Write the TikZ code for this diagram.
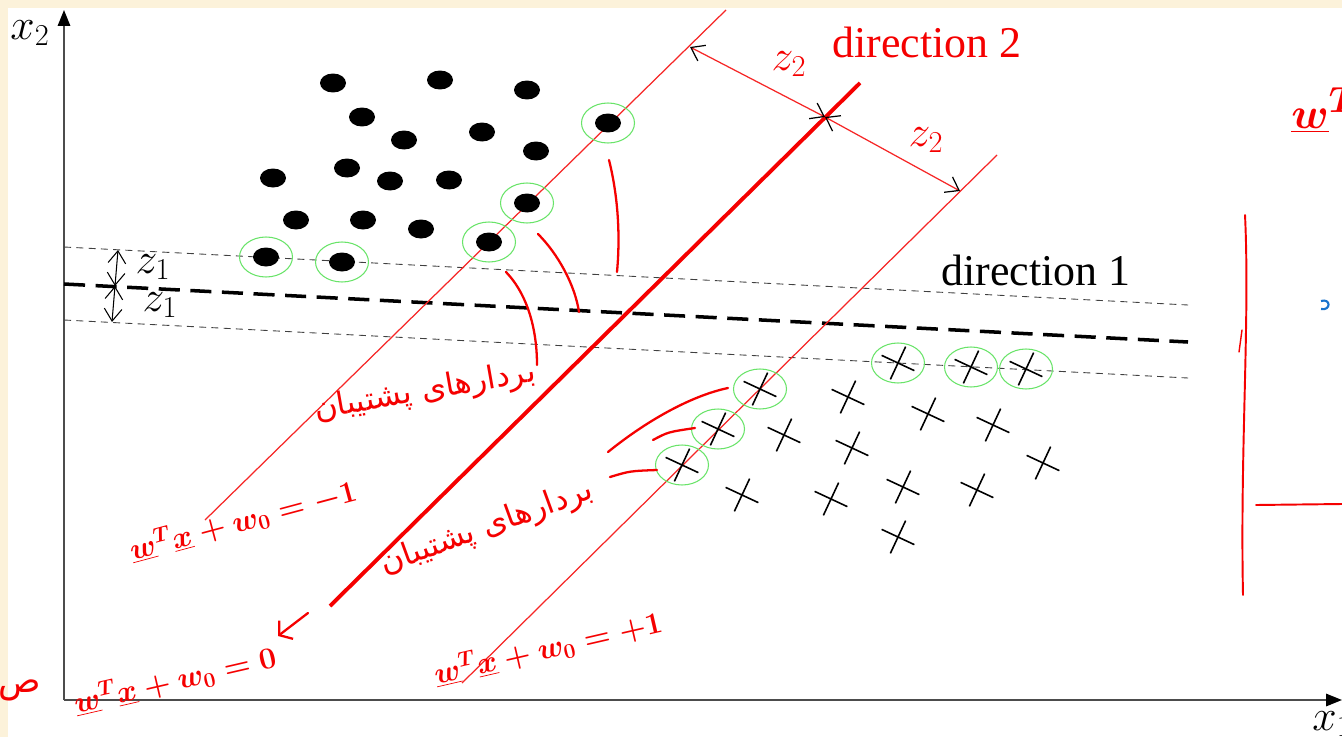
\documentclass[tikz,border=0pt]{standalone}
\usepackage{fontspec}
\setmainfont{Liberation Serif}
\newfontfamily\persianfont[Script=Arabic]{DejaVu Sans}
\TeXXeTstate=1
\usetikzlibrary{arrows.meta,shapes.geometric,shapes.misc}

\definecolor{paper}{RGB}{252,242,218}
\definecolor{ringgreen}{RGB}{105,228,105}
\definecolor{penred}{RGB}{245,0,0}
\definecolor{penblue}{RGB}{25,115,205}

\newcommand{\svpersian}{\persianfont\beginR بردارهای پشتیبان\endR}
\newcommand{\wxeq}[1]{$\underline{w}^{T}\underline{x}+w_{0}=#1$}

\begin{document}
\begin{tikzpicture}[
        x=0.02cm, y=-0.02cm,
        >={Straight Barb[length=7pt, width=10pt, color=black]},
        dot/.style={ellipse, fill=black, inner sep=0,
            minimum width=0.52cm, minimum height=0.38cm},
        crossmark/.style={draw, cross out, line width=0.9pt,
            inner sep=0, minimum size=0.48cm, rotate=20},
        ring/.style={ellipse, draw=ringgreen, line width=0.6pt,
            inner sep=0, minimum width=1.06cm, minimum height=0.8cm},
        axis/.style={draw=black!70, line width=1pt,
            -{Triangle[length=9pt, width=7pt, color=black]}},
        guide/.style={draw=black!75, line width=0.5pt,
            dash pattern=on 4pt off 3pt},
        margin/.style={draw=penred!85, line width=0.7pt},
        hand/.style={draw=penred, line width=1.3pt, line cap=round},
        mathlabel/.style={font=\fontsize{24}{28}\selectfont},
        handtext/.style={text=penred, inner sep=1pt,
            font=\fontsize{17}{20}\selectfont\boldmath}
    ]

    \useasboundingbox (0,0) rectangle (1342,737);
    \clip (0,0) rectangle (1342,737);
    \fill[paper] (0,0) rectangle (1342,737);
    \fill[white] (8,8) rectangle (1342,737);

    \coordinate (origin) at (64,700);
    \coordinate (xend) at (1342,700);
    \coordinate (yend) at (64,10);
    \draw[axis] (origin) -- (xend);
    \draw[axis] (origin) -- (yend);
    \node[mathlabel] (xtwo) at (30,33) {$x_2$};
    \node[mathlabel] (xone) at (1332,724) {$x_1$};

    \coordinate (upper0) at (64,247);
    \coordinate (upper1) at (1188,305);
    \coordinate (mid0) at (64,284);
    \coordinate (mid1) at (1188,342);
    \coordinate (lower0) at (64,320);
    \coordinate (lower1) at (1188,378);
    \draw[guide] (upper0) -- (upper1);
    \draw[guide] (lower0) -- (lower1);
    \draw[line width=2pt, dash pattern=on 12pt off 6pt] (mid0) -- (mid1);

    \coordinate (zonea) at (118,250);
    \coordinate (zoneb) at (115,286);
    \coordinate (zonec) at (112,322);
    \draw[<->, line width=0.6pt] (zonea) -- (zoneb);
    \draw[<->, line width=0.6pt] (zoneb) -- (zonec);
    \node[mathlabel] (zoneup) at (153,267) {$z_1$};
    \node[mathlabel] (zonedown) at (160,305) {$z_1$};
    \node[font=\fontsize{25}{30}\selectfont] (dirone) at (1036,270) {direction 1};

    \coordinate (neg0) at (205,520);
    \coordinate (neg1) at (726,10);
    \coordinate (zero0) at (330,606);
    \coordinate (zero1) at (860,83);
    \coordinate (pos0) at (462,683);
    \coordinate (pos1) at (997,155);
    \draw[margin] (neg0) -- (neg1);
    \draw[margin] (pos0) -- (pos1);
    \draw[draw=penred, line width=2.2pt] (zero0) -- (zero1);

    \coordinate (ztwoa) at (690,47);
    \coordinate (ztwob) at (825,117);
    \coordinate (ztwoc) at (960,191);
    \draw[margin, <->] (ztwoa) -- (ztwob);
    \draw[margin, <->] (ztwob) -- (ztwoc);
    \node[mathlabel, text=penred] (ztwoup) at (789,64) {$z_2$};
    \node[mathlabel, text=penred] (ztwodown) at (926,140) {$z_2$};
    \node[text=penred, font=\fontsize{25}{30}\selectfont] (dirtwo) at (927,42) {direction 2};

    \foreach \x/\y [count=\i] in {333/83, 440/80, 527/90, 362/117, 404/140,
            482/132, 536/151, 273/178, 347/168, 390/181, 449/180,
            296/220, 363/220, 421/229}
        \node[dot] (dot\i) at (\x,\y) {};
    \foreach \x/\y [count=\i] in {266/257, 342/262, 489/242, 527/203, 608/123}
    {
        \node[dot] (svdot\i) at (\x,\y) {};
        \node[ring] (svdotring\i) at (svdot\i) {};
    }
    \foreach \x/\y [count=\i] in {848/397, 928/414, 993/425, 784/435, 852/448,
            1043/463, 742/495, 831/499, 903/487, 977/490, 898/537}
        \node[crossmark] (cross\i) at (\x,\y) {};
    \foreach \x/\y [count=\i] in {760/389, 718/429, 682/465, 898/363,
            971/367, 1026/369}
    {
        \node[crossmark] (svcross\i) at (\x,\y) {};
        \node[ring] (svcrossring\i) at (svcross\i) {};
    }

    \node[text=penred, rotate=10, inner sep=1pt, font=\fontsize{18}{20}\selectfont] (svtextup) at (425,392) {\svpersian};
    \node[text=penred, rotate=20, inner sep=1pt, font=\fontsize{18}{20}\selectfont] (svtextdown) at (487,528) {\svpersian};

    \coordinate (tipa) at (506,272);
    \coordinate (taila) at (537,365);
    \coordinate (tipb) at (538,234);
    \coordinate (tailb) at (579,312);
    \coordinate (tipc) at (609,160);
    \coordinate (tailc) at (617,272);
    \draw[hand] (tipa) .. controls (528,295) and (537,330) .. (taila);
    \draw[hand] (tipb) .. controls (558,254) and (575,285) .. (tailb);
    \draw[hand] (tipc) .. controls (619,200) and (620,240) .. (tailc);

    \coordinate (tipd) at (728,388);
    \coordinate (taild) at (608,452);
    \coordinate (tipe) at (695,428);
    \coordinate (taile) at (653,440);
    \coordinate (tipf) at (657,470);
    \coordinate (tailf) at (610,477);
    \draw[hand] (taild) .. controls (645,422) and (690,396) .. (tipd);
    \draw[hand] (taile) .. controls (668,432) .. (tipe);
    \draw[hand] (tailf) .. controls (630,471) .. (tipf);

    \node[handtext, rotate=15] (eqneg) at (243,520) {\wxeq{-1}};
    \node[handtext, rotate=13] (eqzero) at (175,680) {\wxeq{0}};
    \node[handtext, rotate=13] (eqpos) at (548,648) {\wxeq{+1}};

    \coordinate (pointa) at (308,613);
    \coordinate (pointb) at (278,636);
    \draw[hand, -{Straight Barb[length=5pt, width=13pt]}] (pointa) -- (pointb);

    \node[handtext, font=\fontsize{30}{34}\selectfont\boldmath] (wright) at (1325,110) {$\underline{w}^{T}$};
    \node[text=penred, font=\persianfont\fontsize{20}{24}\selectfont] (cutword) at (20,690) {\beginR ص\endR};
    \draw[hand, line width=1.1pt] (1245,215) .. controls (1250,320) and (1240,450) .. (1243,595);
    \draw[hand, line width=1.1pt] (1256,505) -- (1342,504);
    \draw[hand, line width=0.8pt] (1242,330) -- (1239,352);
    \draw[penblue, line width=1.2pt] (1321,301) .. controls (1331,298) and (1331,311) .. (1321,309);

\end{tikzpicture}
\end{document}
